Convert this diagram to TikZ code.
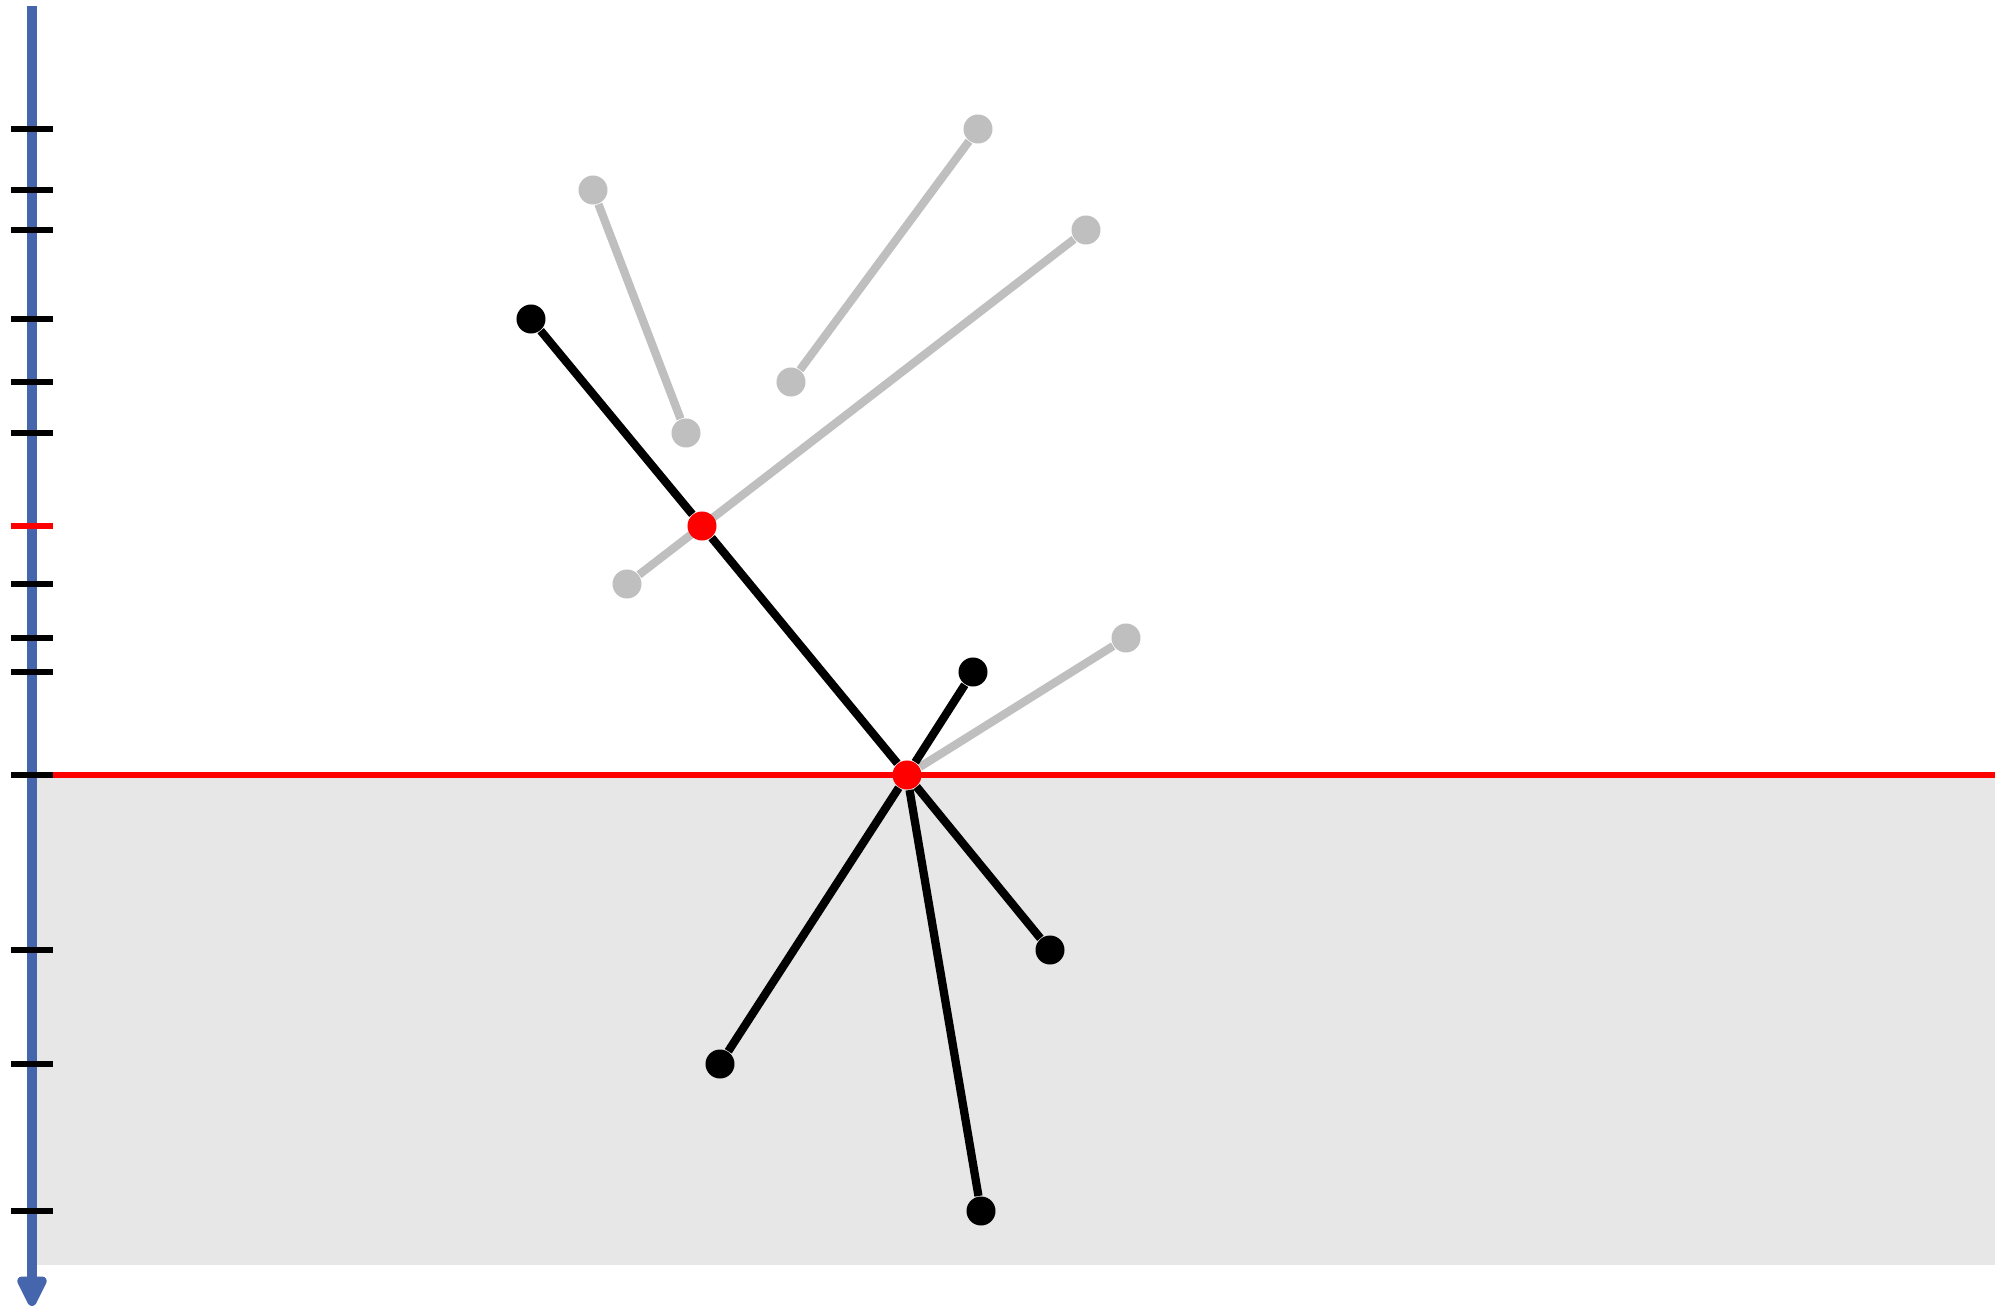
\documentclass[tikz,border=0pt]{standalone}
\usetikzlibrary{arrows.meta,backgrounds}
\definecolor{axisblue}{HTML}{4565AD}
\definecolor{dotgray}{HTML}{BFBFBF}
\definecolor{floorgray}{HTML}{E7E7E7}

\begin{document}
\begin{tikzpicture}[
  x=0.01cm, y=-0.01cm,
  blackdot/.style={circle, fill=black, inner sep=0pt, minimum size=0.29cm},
  graydot/.style={circle, fill=dotgray, inner sep=0pt, minimum size=0.29cm},
  reddot/.style={circle, fill=red, inner sep=0pt, minimum size=0.29cm},
  blackedge/.style={draw=black, line width=2.35pt},
  grayedge/.style={draw=dotgray, line width=2.35pt},
  tick/.style={draw=black, line width=1.8pt}
]
  \useasboundingbox (0,0) rectangle (2008,1309);

  % dots
  \node[blackdot] (top) at (531,319) {};
  \node[reddot]   (ra)  at (702,526) {};
  \node[reddot]   (rb)  at (907,775) {};
  \node[blackdot] (b1)  at (973,672) {};
  \node[blackdot] (b2)  at (1050,950) {};
  \node[blackdot] (b3)  at (720,1064) {};
  \node[blackdot] (b4)  at (981,1211) {};
  \node[graydot]  (g1)  at (1126,638) {};
  \node[graydot]  (g2)  at (627,584) {};
  \node[graydot]  (g3)  at (1086,230) {};
  \node[graydot]  (g4)  at (593,190) {};
  \node[graydot]  (g5)  at (686,433) {};
  \node[graydot]  (g6)  at (791,382) {};
  \node[graydot]  (g7)  at (978,129) {};

  \begin{pgfonlayer}{background}
    % ground and level line
    \fill[floorgray] (32,775) rectangle (1995,1265);
    \draw[red, line width=1.75pt] (32,775) -- (1995,775);
    % axis
    \draw[axisblue, line width=2.65pt,
          -{Triangle[length=0.36cm, width=0.32cm, round]}] (32,6) -- (32,1306);
    \foreach \ty in {129,190,230,319,382,433,584,638,672,775,950,1064,1211}
      \draw[tick] (11,\ty) -- (53,\ty);
    \draw[tick, draw=red] (11,526) -- (53,526);
    % gray links
    \draw[grayedge] (g2) -- (g3);
    \draw[grayedge] (g4) -- (g5);
    \draw[grayedge] (g6) -- (g7);
    \draw[grayedge] (rb) -- (g1);
    % black links
    \draw[blackedge] (top) -- (ra);
    \draw[blackedge] (ra) -- (rb);
    \draw[blackedge] (rb) -- (b1);
    \draw[blackedge] (rb) -- (b2);
    \draw[blackedge] (rb) -- (b3);
    \draw[blackedge] (rb) -- (b4);
  \end{pgfonlayer}
\end{tikzpicture}
\end{document}
